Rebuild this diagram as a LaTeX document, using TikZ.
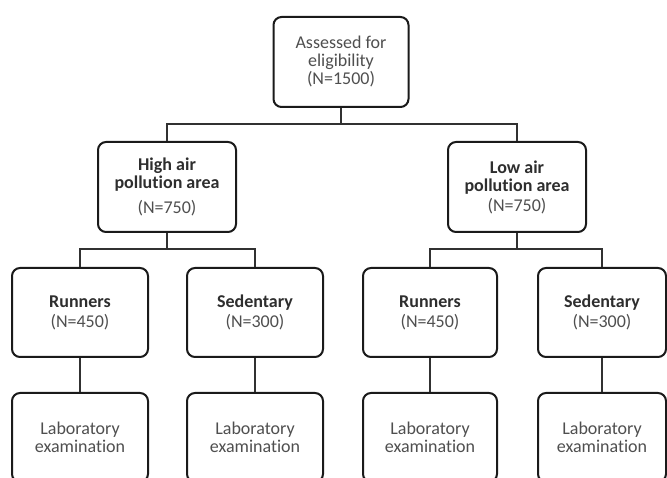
\documentclass[tikz,border=0pt]{standalone}
\usepackage{fontspec}
\setmainfont{Carlito}[Ligatures=NoCommon]
\definecolor{txt}{HTML}{4F4F4F}
\definecolor{btxt}{HTML}{2E2E2E}
\definecolor{edge}{HTML}{1A1A1A}
\begin{document}
\begin{tikzpicture}[x=1pt,y=-1pt,
  box/.style={draw=edge, line width=2pt, rounded corners=8pt, minimum width=136pt, minimum height=89pt, align=center, text=txt, inner sep=2pt, font=\fontsize{18}{18}\selectfont},
  link/.style={draw=edge!90, line width=1.6pt}]
\clip (0,0) rectangle (667,478);
\fill[white] (0,0) rectangle (667,478);
\node[box, minimum width=135pt, minimum height=90pt] (top) at (341,62) {Assessed for\\eligibility\\(N=1500)};
\node[box, minimum width=138pt, minimum height=90pt] (high) at (167,187) {\textbf{\color{btxt}High air}\\\textbf{\color{btxt}pollution area}\\[7pt](N=750)};
\node[box, minimum width=138pt, minimum height=90pt] (low) at (517,187) {\textbf{\color{btxt}Low air}\\\textbf{\color{btxt}pollution area}\\[2pt](N=750)};
\node[box] (rl) at (80,312.5) {\textbf{\color{btxt}Runners}\\[2pt](N=450)};
\node[box] (sl) at (255,312.5) {\textbf{\color{btxt}Sedentary}\\[2pt](N=300)};
\node[box, minimum width=134pt] (rr) at (430,312.5) {\textbf{\color{btxt}Runners}\\[2pt](N=450)};
\node[box, minimum width=128pt] (sr) at (602,312.5) {\textbf{\color{btxt}Sedentary}\\[2pt](N=300)};
\node[box] (ll1) at (80,437.5) {Laboratory\\examination};
\node[box] (ll2) at (255,437.5) {Laboratory\\examination};
\node[box, minimum width=134pt] (lr1) at (430,437.5) {Laboratory\\examination};
\node[box, minimum width=128pt] (lr2) at (602,437.5) {Laboratory\\examination};
\coordinate (j1) at (341,124);
\coordinate (j2) at (167,249);
\coordinate (j3) at (517,249);
\draw[link] (top.south) -- (j1);
\draw[link] (high.north) |- (j1) -| (low.north);
\draw[link] (high.south) -- (j2);
\draw[link] (rl.north) |- (j2) -| (sl.north);
\draw[link] (low.south) -- (j3);
\draw[link] (rr.north) |- (j3) -| (sr.north);
\draw[link] (rl.south) -- (ll1.north);
\draw[link] (sl.south) -- (ll2.north);
\draw[link] (rr.south) -- (lr1.north);
\draw[link] (sr.south) -- (lr2.north);
\end{tikzpicture}
\end{document}
